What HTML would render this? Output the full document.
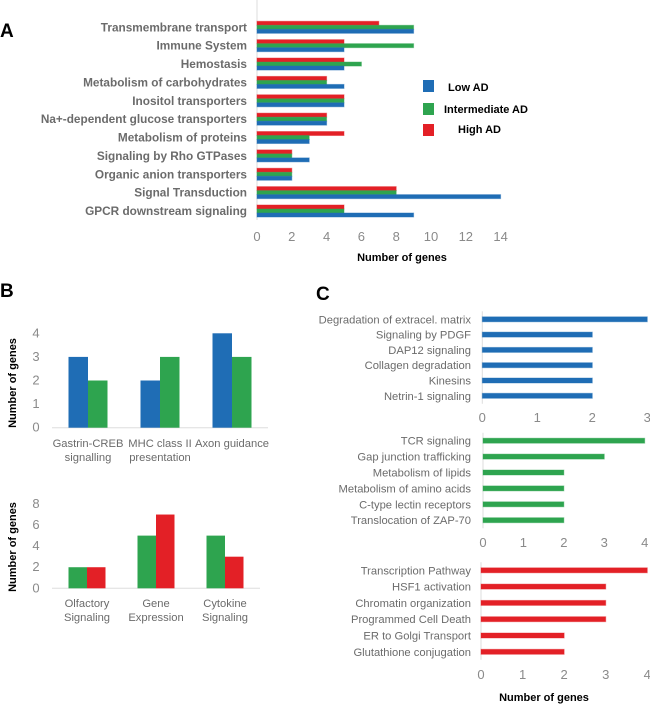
<!DOCTYPE html>
<html><head><meta charset="utf-8"><style>
html,body{margin:0;padding:0;background:#fff;}
svg{display:block;font-family:"Liberation Sans",Arial,sans-serif;}
.lab{fill:#6b6b6b;font-weight:bold;font-size:11.8px;}
.tick{fill:#8a8a8a;font-size:13px;}
.clab{fill:#6b6b6b;font-size:11.2px;}
.ttl{fill:#000;font-weight:bold;font-size:11px;}
.pl{fill:#000;font-weight:bold;font-size:19px;}
</style></head><body>
<svg id="chart" width="650" height="709" viewBox="0 0 650 709">
<text class="pl" x="0" y="37">A</text>
<text class="pl" x="0" y="297">B</text>
<text class="pl" x="316" y="300">C</text>
<g id="legend">
<rect x="423" y="80" width="11" height="12" fill="#1f6db5"/>
<text class="ttl" x="448" y="91" font-size="12">Low AD</text>
<rect x="423" y="103" width="11" height="12" fill="#2ea44f"/>
<text class="ttl" x="444" y="113" font-size="12">Intermediate AD</text>
<rect x="423" y="124" width="11" height="12" fill="#e32026"/>
<text class="ttl" x="458" y="133" font-size="12">High AD</text>
</g>
</svg>
<script>
const BLUE="#1f6db5",GREEN="#2ea44f",RED="#e32026";
// Panel A
const aCats=["Transmembrane transport","Immune System","Hemostasis","Metabolism of carbohydrates","Inositol transporters","Na+-dependent glucose transporters","Metabolism of proteins","Signaling by Rho GTPases","Organic anion transporters","Signal Transduction","GPCR downstream signaling"];
const aLow=[9,5,5,5,5,4,3,3,2,14,9];
const aInter=[9,9,6,4,5,4,3,2,2,8,5];
const aHigh=[7,5,5,4,5,4,5,2,2,8,5];
const aTicks=[0,2,4,6,8,10,12,14];
// Panel B
const b1Cats=["Gastrin-CREB|signalling","MHC class II|presentation","Axon guidance"];
const b1Low=[3,2,4];
const b1Inter=[2,3,3];
const b1Ticks=[0,1,2,3,4];
const b2Cats=["Olfactory|Signaling","Gene|Expression","Cytokine|Signaling"];
const b2Inter=[2,5,5];
const b2High=[2,7,3];
const b2Ticks=[0,2,4,6,8];
// Panel C
const c1Cats=["Degradation of extracel. matrix","Signaling by PDGF","DAP12 signaling","Collagen degradation","Kinesins","Netrin-1 signaling"];
const c1Vals=[3,2,2,2,2,2];
const c1Ticks=[0,1,2,3];
const c2Cats=["TCR signaling","Gap junction trafficking","Metabolism of lipids","Metabolism of amino acids","C-type lectin receptors","Translocation of ZAP-70"];
const c2Vals=[4,3,2,2,2,2];
const c2Ticks=[0,1,2,3,4];
const c3Cats=["Transcription Pathway","HSF1 activation","Chromatin organization","Programmed Cell Death","ER to Golgi Transport","Glutathione conjugation"];
const c3Vals=[4,3,3,3,2,2];
const c3Ticks=[0,1,2,3,4];

const svg=document.getElementById('chart');
const NS="http://www.w3.org/2000/svg";
function mk(tag,attrs,txt){const e=document.createElementNS(NS,tag);for(const k in attrs)e.setAttribute(k,attrs[k]);if(txt!=null)e.textContent=txt;svg.appendChild(e);return e;}

// ---- Panel A
const ax=v=>257+v*17.4, ay=i=>27.3+i*18.37;
let e=mk('line',{x1:257,y1:0,x2:257,y2:220,stroke:"#ddd","stroke-width":1});


aCats.forEach((c,i)=>{
  const y=ay(i);
  e=mk('text',{class:'lab',x:247,y:y+4,'text-anchor':'end'},c);
  
  
  [[aHigh,RED,-6],[aInter,GREEN,-2],[aLow,BLUE,2]].forEach(([arr,col,off])=>{
    e=mk('rect',{x:ax(0),y:y+off,width:ax(arr[i])-ax(0),height:4,fill:col,stroke:col,'stroke-opacity':0.45,'stroke-width':1});
    
    
  });
});
aTicks.forEach(t=>{
  e=mk('text',{class:'tick',x:ax(t),y:241,'text-anchor':'middle'},t);
  
  
});
e=mk('text',{class:'ttl',x:402,y:261,'text-anchor':'middle'},'Number of genes');



// ---- Panel B
function colChart(cats,s1,s2,c1,c2,ticks,y0,ymaxPx,max,centers,bw,axEnd,labY,titleY,nm){
  const sy=v=>y0-v*(y0-ymaxPx)/max;
  e=mk('line',{x1:52,y1:y0,x2:axEnd,y2:y0,stroke:"#ddd"});
  
  
  ticks.forEach(t=>{
    e=mk('text',{class:'tick',x:36,y:sy(t)+4,'text-anchor':'middle'},t);
    
    
  });
  cats.forEach((c,i)=>{
    const cx=centers[i];
    e=mk('rect',{x:cx-bw,y:sy(s1[i]),width:bw,height:y0-sy(s1[i]),fill:c1});
    
    
    e=mk('rect',{x:cx,y:sy(s2[i]),width:bw,height:y0-sy(s2[i]),fill:c2});
    
    
    c.split('|').forEach((ln,k)=>{
      e=mk('text',{class:'clab',x:cx,y:labY+k*14,'text-anchor':'middle'},ln);
      
      
    });
  });
  e=mk('text',{class:'ttl',x:16,y:titleY,'text-anchor':'middle',transform:`rotate(-90 16 ${titleY})`,'font-size':'12'},'Number of genes');
  
  
}
colChart(b1Cats,b1Low,b1Inter,BLUE,GREEN,b1Ticks,427.7,333.3,4,[88,160,232],19.5,268,447,383,'panel-b-top');
colChart(b2Cats,b2Inter,b2High,GREEN,RED,b2Ticks,588.3,504,8,[87,156,225],18.5,260,607,547,'panel-b-bottom');

// ---- Panel C
function hbar(cats,vals,ticks,x0,xMaxPx,max,yStart,step,tickY,col,nm){
  const sx=v=>x0+v*(xMaxPx-x0)/max;
  e=mk('line',{x1:x0,y1:yStart-8,x2:x0,y2:yStart+step*5+8,stroke:"#ddd"});
  
  
  cats.forEach((c,i)=>{
    const y=yStart+i*step;
    e=mk('text',{class:'clab',x:471,y:y+4,'text-anchor':'end'},c);
    
    
    e=mk('rect',{x:x0,y:y-2.5,width:sx(vals[i])-x0,height:5,fill:col,stroke:col,'stroke-opacity':0.4});
    
    
  });
  ticks.forEach(t=>{
    e=mk('text',{class:'tick',x:sx(t),y:tickY,'text-anchor':'middle'},t);
    
    
  });
}
hbar(c1Cats,c1Vals,c1Ticks,482.3,647.3,3,319.3,15.3,422,BLUE,'panel-c-low');
hbar(c2Cats,c2Vals,c2Ticks,483,644.7,4,440.7,15.9,547,GREEN,'panel-c-intermediate');
hbar(c3Cats,c3Vals,c3Ticks,481,647.3,4,570.3,16.3,679,RED,'panel-c-high');
e=mk('text',{class:'ttl',x:544,y:701,'text-anchor':'middle','font-size':'12'},'Number of genes');


</script>
</body></html>
